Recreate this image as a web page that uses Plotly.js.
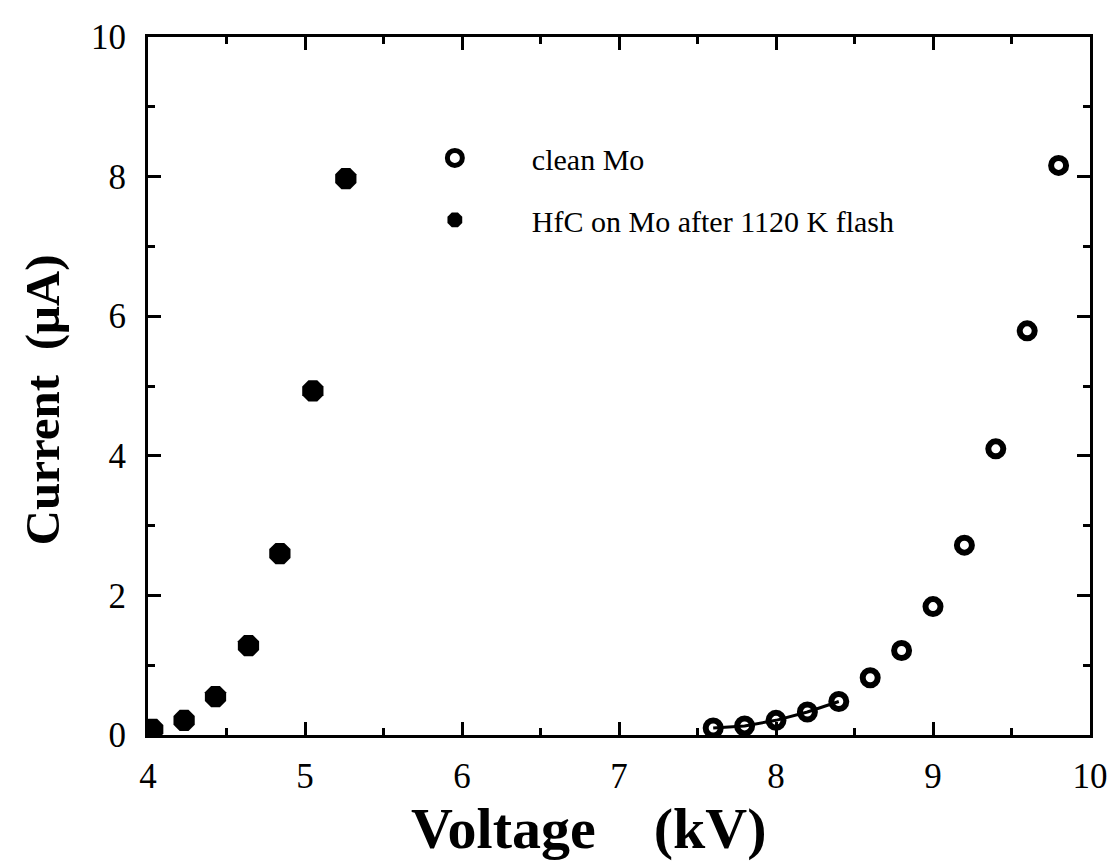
<!DOCTYPE html>
<html>
<head>
<meta charset="utf-8">
<script src="https://cdn.plot.ly/plotly-3.0.1.min.js"></script>
<style>html,body{margin:0;padding:0;background:#fff;}#chart{width:1108px;height:863px;}</style>
</head>
<body>
<div id="chart"></div>
<script>
// Data
var cleanMoVoltage = [7.6, 7.8, 8.0, 8.2, 8.4, 8.6, 8.8, 9.0, 9.2, 9.4, 9.6, 9.8];
var cleanMoCurrent = [0.1, 0.13, 0.21, 0.33, 0.48, 0.82, 1.21, 1.84, 2.72, 4.1, 5.79, 8.16];
var hfcVoltage = [4.03, 4.23, 4.43, 4.64, 4.84, 5.05, 5.26];
var hfcCurrent = [0.08, 0.21, 0.55, 1.28, 2.6, 4.93, 7.97];
var lineCount = 5; // first clean-Mo points are joined by a line
var seriesNames = ["clean Mo", "HfC on Mo after 1120 K flash"];
var xTickVals = [4, 5, 6, 7, 8, 9, 10];
var yTickVals = [0, 2, 4, 6, 8, 10];
var xTitle = "Voltage";
var xUnit = "(kV)";
var yTitle = "Current";
var yUnit = "(μA)";

var serif = "'Liberation Serif', 'Times New Roman', serif";
var NB = "\u00a0";

var traces = [
  {
    x: cleanMoVoltage.slice(0, lineCount),
    y: cleanMoCurrent.slice(0, lineCount),
    mode: "lines",
    line: {color: "#000", width: 3},
    showlegend: false,
    hoverinfo: "skip"
  },
  {
    x: cleanMoVoltage, y: cleanMoCurrent,
    name: seriesNames[0],
    legendgroup: "a",
    mode: "markers",
    marker: {symbol: "circle-open", size: 15, color: "#000", line: {color: "#000", width: 6}}
  },
  {
    x: hfcVoltage, y: hfcCurrent,
    name: seriesNames[1],
    legendgroup: "b",
    mode: "markers",
    marker: {symbol: "octagon", size: 23, color: "#000", line: {width: 0}}
  }
];

var axisCommon = {
  showgrid: false, zeroline: false,
  showline: true, linecolor: "#000", linewidth: 3,
  mirror: "allticks", ticks: "inside", ticklen: 13, tickwidth: 3, tickcolor: "#000",
  tickfont: {family: serif, size: 35, color: "#000"}
};

var layout = {
  width: 1108, height: 863,
  paper_bgcolor: "#fff", plot_bgcolor: "#fff",
  margin: {l: 148, r: 18, t: 37, b: 128},
  showlegend: true,
  legend: {
    x: 0.244, y: 0.864, xanchor: "left", yanchor: "top",
    bgcolor: "rgba(0,0,0,0)", borderwidth: 0,
    font: {family: serif, size: 30, color: "#000"},
    itemwidth: 144, tracegroupgap: 20, traceorder: "grouped"
  },
  xaxis: Object.assign({}, axisCommon, {
    range: [4, 10], tickvals: xTickVals, ticktext: xTickVals.map(String),
    minor: {dtick: 0.5, ticklen: 7, tickwidth: 3, tickcolor: "#000", ticks: "inside"},
    ticklabelstandoff: 8
  }),
  yaxis: Object.assign({}, axisCommon, {
    range: [0, 10], tickvals: yTickVals, ticktext: yTickVals.map(String),
    minor: {dtick: 1, ticklen: 7, tickwidth: 3, tickcolor: "#000", ticks: "inside"},
    ticklabelstandoff: 12
  }),
  annotations: [
    {
      text: "<b>" + xTitle + NB + NB + NB + NB + xUnit + "</b>",
      xref: "paper", yref: "paper", x: 0.468, y: -0.134,
      xanchor: "center", yanchor: "middle", showarrow: false,
      font: {family: serif, size: 58, color: "#000"}
    },
    {
      text: "<b>" + yTitle + NB + NB + yUnit + "</b>",
      xref: "paper", yref: "paper", x: -0.111, y: 0.48,
      xanchor: "center", yanchor: "middle", showarrow: false, textangle: -90,
      font: {family: serif, size: 49, color: "#000"}
    }
  ]
};

Plotly.newPlot("chart", traces, layout, {displayModeBar: false, staticPlot: true});
</script>
</body>
</html>
